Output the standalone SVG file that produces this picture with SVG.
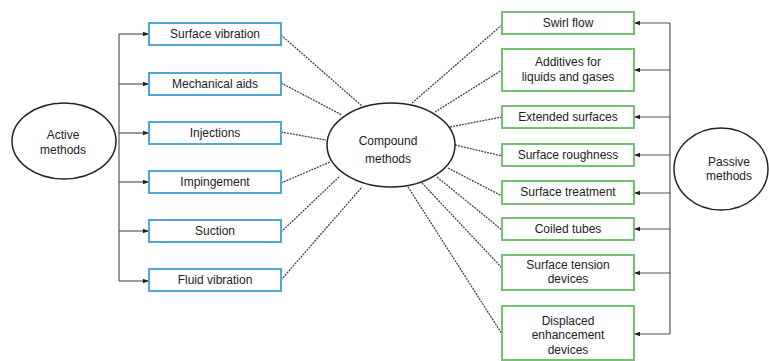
<svg xmlns="http://www.w3.org/2000/svg" width="769" height="361" viewBox="0 0 769 361">
<defs>
<marker id="ah" viewBox="0 0 6 6" refX="6" refY="3" markerWidth="6" markerHeight="6" markerUnits="userSpaceOnUse" orient="auto">
<path d="M0,0.8 L6,3 L0,5.2 Z" fill="#222"/>
</marker>
<style>
.t{font-family:"Liberation Sans",Arial,sans-serif;font-size:12px;fill:#222;text-anchor:middle}
.bb{fill:#fff;stroke:#4ea7d6;stroke-width:2}
.gb{fill:#fff;stroke:#74c271;stroke-width:2}
.el{fill:#fff;stroke:#222;stroke-width:1.5}
.solid{fill:none;stroke:#555;stroke-width:1.2}
.dot{fill:none;stroke:#444;stroke-width:1.3;stroke-dasharray:2 1}
</style>
</defs>
<rect width="769" height="361" fill="#fff"/>
<g id="connectors">
<path class="solid" d="M119,34 V281"/>
<path class="solid" d="M119,34 H149" marker-end="url(#ah)"/>
<path class="solid" d="M119,84 H149" marker-end="url(#ah)"/>
<path class="solid" d="M119,133 H149" marker-end="url(#ah)"/>
<path class="solid" d="M119,182 H149" marker-end="url(#ah)"/>
<path class="solid" d="M119,231 H149" marker-end="url(#ah)"/>
<path class="solid" d="M119,281 H149" marker-end="url(#ah)"/>
<path class="solid" d="M670,23 V334"/>
<path class="solid" d="M670,23 H634" marker-end="url(#ah)"/>
<path class="solid" d="M670,70 H634" marker-end="url(#ah)"/>
<path class="solid" d="M670,117 H634" marker-end="url(#ah)"/>
<path class="solid" d="M670,155 H634" marker-end="url(#ah)"/>
<path class="solid" d="M670,193 H634" marker-end="url(#ah)"/>
<path class="solid" d="M670,229 H634" marker-end="url(#ah)"/>
<path class="solid" d="M670,273 H634" marker-end="url(#ah)"/>
<path class="solid" d="M670,334 H634" marker-end="url(#ah)"/>
<path class="dot" d="M281,35 L362,106"/>
<path class="dot" d="M281,83 L342,115"/>
<path class="dot" d="M281,132 L326,140"/>
<path class="dot" d="M281,183 L330,162"/>
<path class="dot" d="M281,232 L340,176"/>
<path class="dot" d="M281,280 L362,187"/>
<path class="dot" d="M412,103 L502,25"/>
<path class="dot" d="M435,112 L502,70"/>
<path class="dot" d="M450,127 L502,117"/>
<path class="dot" d="M455,145 L502,156"/>
<path class="dot" d="M448,168 L502,196"/>
<path class="dot" d="M437,177 L502,230"/>
<path class="dot" d="M422,183 L502,268"/>
<path class="dot" d="M408,187 L502,334"/>
</g>
<g id="active"><ellipse class="el" cx="64" cy="141" rx="52" ry="38"/><text class="t" x="63" y="139">Active</text><text class="t" x="63" y="154">methods</text></g>
<g id="compound"><ellipse class="el" cx="391" cy="145" rx="64" ry="42"/><text class="t" x="388" y="149" dy="-4">Compound</text><text class="t" x="388" y="163">methods</text></g>
<g id="passive"><ellipse class="el" cx="721" cy="169" rx="47" ry="41"/><text class="t" x="729" y="166">Passive</text><text class="t" x="729" y="180">methods</text></g>
<g id="surface-vibration"><rect class="bb" x="149" y="23" width="132" height="22"/><text class="t" x="215" y="38">Surface vibration</text></g>
<g id="mechanical-aids"><rect class="bb" x="149" y="73" width="132" height="22"/><text class="t" x="215" y="88">Mechanical aids</text></g>
<g id="injections"><rect class="bb" x="149" y="122" width="132" height="22"/><text class="t" x="215" y="137">Injections</text></g>
<g id="impingement"><rect class="bb" x="149" y="171" width="132" height="22"/><text class="t" x="215" y="186">Impingement</text></g>
<g id="suction"><rect class="bb" x="149" y="220" width="132" height="22"/><text class="t" x="215" y="235">Suction</text></g>
<g id="fluid-vibration"><rect class="bb" x="149" y="269" width="132" height="22"/><text class="t" x="215" y="284">Fluid vibration</text></g>
<g id="swirl-flow"><rect class="gb" x="502" y="12" width="132" height="22"/><text class="t" x="568" y="27">Swirl flow</text></g>
<g id="additives"><rect class="gb" x="502" y="49" width="132" height="42"/><text class="t" x="568" y="66">Additives for</text><text class="t" x="568" y="81">liquids and gases</text></g>
<g id="extended-surfaces"><rect class="gb" x="502" y="106" width="132" height="22"/><text class="t" x="568" y="121">Extended surfaces</text></g>
<g id="surface-roughness"><rect class="gb" x="502" y="144" width="132" height="22"/><text class="t" x="568" y="159">Surface roughness</text></g>
<g id="surface-treatment"><rect class="gb" x="502" y="181" width="132" height="23"/><text class="t" x="568" y="196">Surface treatment</text></g>
<g id="coiled-tubes"><rect class="gb" x="502" y="218" width="132" height="22"/><text class="t" x="568" y="233">Coiled tubes</text></g>
<g id="surface-tension"><rect class="gb" x="502" y="255" width="132" height="35"/><text class="t" x="568" y="269">Surface tension</text><text class="t" x="568" y="283">devices</text></g>
<g id="displaced"><rect class="gb" x="502" y="306" width="132" height="54"/><text class="t" x="568" y="325">Displaced</text><text class="t" x="568" y="339">enhancement</text><text class="t" x="568" y="354">devices</text></g>
</svg>
